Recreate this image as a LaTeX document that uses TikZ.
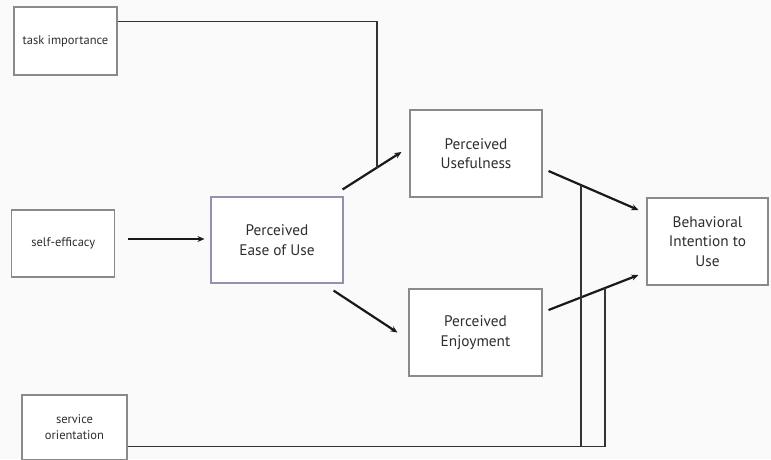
\documentclass[tikz,border=0pt]{standalone}
\usepackage{fontspec}
\setmainfont{PT Sans}
\usetikzlibrary{arrows.meta,calc}
\definecolor{bgcol}{HTML}{FAFAFA}
\definecolor{boxline}{HTML}{8A8A8A}
\definecolor{peoubox}{HTML}{9590AE}
\definecolor{txt}{HTML}{2E2E2E}
\tikzset{
  box/.style={draw=boxline, line width=1.1pt, fill=white, text=txt, align=center, inner sep=0pt},
  bigtext/.style={font=\fontsize{15.3}{19.5}\selectfont},
  smalltext/.style={font=\fontsize{12.5}{16}\selectfont},
  arr/.style={line width=2.2pt, draw=black!90, -{Stealth[length=7pt,width=6pt]}},
  conn/.style={line width=1.5pt, draw=black!80}
}
\begin{document}
\begin{tikzpicture}[x=1pt,y=-1pt]
\useasboundingbox (0,0) rectangle (771,459);
\clip (0,0) rectangle (771,459);
\fill[bgcol] (0,0) rectangle (771,459);

% antecedents on the left
\node[box, smalltext, minimum width=103pt, minimum height=68pt] (ti) at (65.5,41) {task importance};
\node[box, smalltext, minimum width=103pt, minimum height=67pt] (se) at (63.3,243.5) {self-efficacy};
\node[box, smalltext, minimum width=105pt, minimum height=65pt] (so) at (74.5,427.5) {service\\orientation};

% core constructs
\node[box, bigtext, draw=peoubox, minimum width=132pt, minimum height=86pt] (peou) at (277,240) {Perceived\\Ease of Use};
\node[box, bigtext, minimum width=132pt, minimum height=87pt] (pu) at (476,153.5) {Perceived\\Usefulness};
\node[box, bigtext, minimum width=133pt, minimum height=87pt] (pe) at (475.5,332.5) {Perceived\\Enjoyment};
\node[box, bigtext, minimum width=121pt, minimum height=87pt] (bi) at (707.5,241.5) {Behavioral\\Intention to\\Use};

% causal paths
\draw[arr] ($(se.east)+(13,-4.5)$) -- ($(peou.west)+(-6,-1)$);
\draw[arr] ($(peou.north east)+(-1,-7)$) -- ($(pu.west)+(-8,-1.5)$) coordinate[pos=0.583] (j1);
\draw[arr] ($(peou.south east)+(-10,7)$) -- ($(pe.west)+(-11,0)$);
\draw[arr] ($(pu.east)+(6,17.5)$) -- ($(bi.west)+(-8,-31.5)$) coordinate[pos=0.363] (j3);
\draw[arr] ($(pe.east)+(6,-22.5)$) -- ($(bi.west)+(-8,33.5)$) coordinate[pos=0.626] (j2);

% moderator lines
\coordinate (tiout) at ($(ti.north east)+(0,15)$);
\draw[conn] (tiout) -| (j1);
\coordinate (soout) at ($(so.north east)+(0,52)$);
\draw[conn] (soout) -| (j2);
\draw[conn] (j3) -- (j3 |- soout);
\end{tikzpicture}
\end{document}
